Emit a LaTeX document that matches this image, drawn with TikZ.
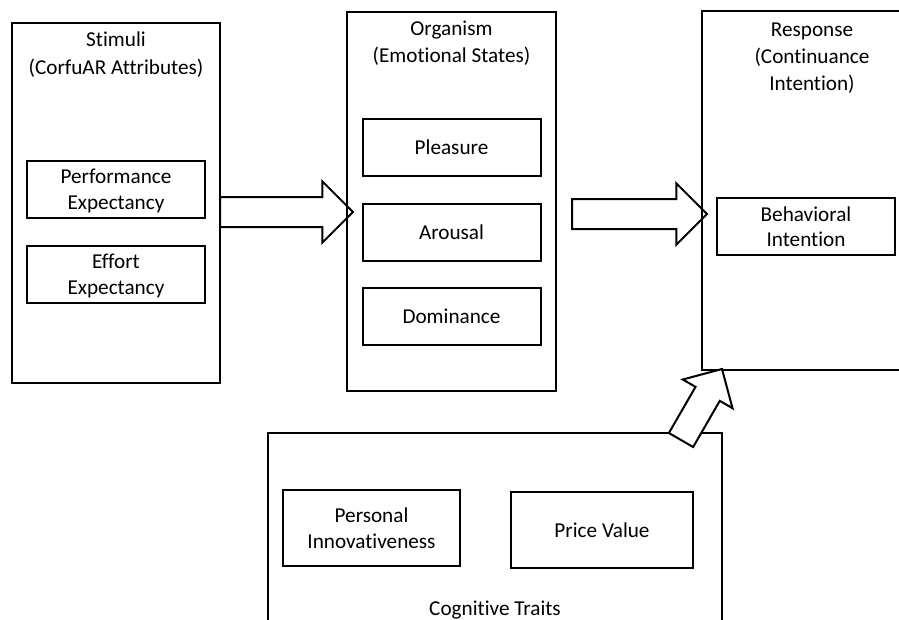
\documentclass[tikz,border=0pt]{standalone}
\usepackage{fontspec}
\setmainfont{Carlito}[Ligatures={TeX,NoCommon}]
\usetikzlibrary{calc,fit}

\tikzset{
  outbox/.style={draw, line width=1pt, inner sep=0pt},
  inbox/.style={draw, line width=1.5pt, inner sep=0pt, align=center,
    minimum width=133.5pt, minimum height=42.75pt, text depth=0pt,
    font=\fontsize{15.9pt}{19.3pt}\selectfont},
  bigbox/.style={inbox, minimum height=57pt},
  title/.style={align=center, inner sep=0pt,
    font=\fontsize{15.9pt}{20.5pt}\selectfont},
  fatline/.style={draw, line width=1.5pt, line join=miter},
}

% block arrow: tail, tip, half width of the shaft (pt)
\newcommand\fatarrow[4][]{%
  \pgfmathsetmacro\headw{2.05*#4}
  \coordinate (fh) at ($(#3)!\headw pt!(#2)$);
  \draw[fatline,#1] ($(#2)!#4pt!90:(#3)$) -- ($(fh)!#4pt!90:(#3)$)
    -- ($(fh)!\headw pt!90:(#3)$) -- (#3)
    -- ($(fh)!\headw pt!-90:(#3)$) -- ($(fh)!#4pt!-90:(#3)$)
    -- ($(#2)!#4pt!-90:(#3)$) -- cycle;
}

\begin{document}
\begin{tikzpicture}[x=0.75pt, y=-0.75pt]

  \useasboundingbox (0,0) rectangle (899,619);

  % stimuli
  \node[outbox, fit={(12,23) (220,383)}] (stim) {};
  \node[title] (stimt) at (116,54.5) {Stimuli\\(CorfuAR Attributes)};
  \node[inbox] (perf) at (116,189.5) {Performance\\Expectancy};
  \node[inbox] (effort) at (116,274.5) {Effort\\Expectancy};

  % organism
  \node[outbox, fit={(347,12) (556,391)}] (org) {};
  \node[title] (orgt) at (451.5,43.5) {Organism\\(Emotional States)};
  \node[inbox] (pleas) at (451.5,147) {Pleasure};
  \node[inbox] (arous) at (451.5,232.5) {Arousal};
  \node[inbox] (domin) at (451.5,316.5) {Dominance};

  % response
  \node[outbox, fit={(702,11) (922,370)}] (resp) {};
  \node[title] (respt) at (812,58) {Response\\(Continuance\\Intention)};
  \node[inbox] (behav) at (806,226.5) {Behavioral\\Intention};

  % cognitive traits
  \node[outbox, fit={(268,433) (722,660)}] (cog) {};
  \node[bigbox, minimum width=132.75pt] (pers) at (371.5,528) {Personal\\Innovativeness};
  \node[bigbox, minimum width=136.5pt] (price) at (602,530) {Price Value};
  \node[title] (cogt) at (495,610) {Cognitive Traits};

  % arrows
  \coordinate (s1) at (220,212);
  \coordinate (e1) at (353,212);
  \coordinate (s2) at (572,214);
  \coordinate (e2) at (707,214);
  \coordinate (s3) at (681,440);
  \coordinate (e3) at (722,369);
  \fatarrow{s1}{e1}{11.25}
  \fatarrow{s2}{e2}{11.25}
  \fatarrow[fill=white]{s3}{e3}{10.5}

\end{tikzpicture}
\end{document}
